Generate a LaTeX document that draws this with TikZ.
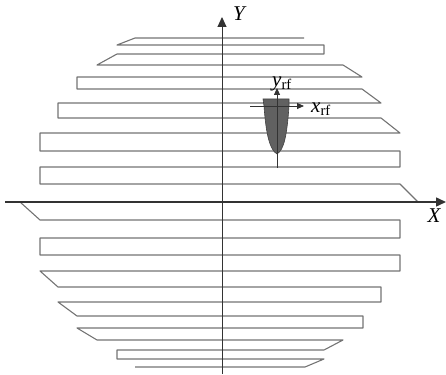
\documentclass[tikz,border=0pt]{standalone}
\usepackage{fontspec}
\setmainfont{Liberation Serif}
\usetikzlibrary{arrows.meta}

\begin{document}
\begin{tikzpicture}[
  x=1pt, y=-1pt,
  scanline/.style={draw=black!55, line width=1.1pt, line join=round},
  axis/.style={draw=black!80, line width=1pt, -{Triangle[length=10pt,width=9pt]}},
  toolaxis/.style={draw=black!80, line width=0.8pt, -{Triangle[length=7pt,width=6pt]}},
  lbl/.style={font=\fontsize{21}{21}\selectfont\itshape, inner sep=0pt}
]
\useasboundingbox (0,0) rectangle (446,374);
\draw[scanline] (135,38) -- (304,38)
  (135,38) -- (117,45) -- (324,45) -- (324,54) -- (117,54) -- (97,65) -- (343,65)
  -- (362,77) -- (77,77) -- (77,89) -- (362,89) -- (381,103) -- (58,103)
  -- (58,118) -- (381,118) -- (400,133) -- (40,133) -- (40,151) -- (400,151)
  -- (400,167) -- (40,167) -- (40,184) -- (400,184) -- (418,202) -- (20,202)
  -- (40,220) -- (400,220) -- (400,238) -- (40,238) -- (40,255) -- (400,255)
  -- (400,271) -- (40,271) -- (58,287) -- (381,287) -- (381,302) -- (58,302)
  -- (77,316) -- (363,316) -- (363,328) -- (77,328) -- (97,340) -- (343,340)
  -- (324,350) -- (117,350) -- (117,359) -- (324,359) -- (305,367) -- (135,367);
\coordinate (xs) at (5,202);
\coordinate (xe) at (446,202);
\coordinate (ys) at (222,374);
\coordinate (ye) at (222,17);
\draw[axis, line width=1.5pt] (xs) -- (xe);
\draw[axis] (ys) -- (ye);
\node[lbl] (ylab) at (239,14) {Y};
\node[lbl] (xlab) at (434,216) {X};
\fill[black!62, draw=black!75, line width=0.6pt] (263,99) -- (289,99) -- (289,106)
  .. controls (287,135) and (284,150) .. (277,154)
  .. controls (270,150) and (266,135) .. (264,106) -- cycle;
\coordinate (tb) at (277,168);
\coordinate (ty) at (277,88);
\coordinate (tl) at (250,106);
\coordinate (tr) at (304,106);
\draw[toolaxis] (tb) -- (ty);
\draw[toolaxis] (tl) -- (tr);
\node[lbl, anchor=south] (yrf) at (282,91) {y\textsubscript{\upshape rf}};
\node[lbl, anchor=west] (xrf) at (311,109) {x\textsubscript{\upshape rf}};
\end{tikzpicture}
\end{document}
